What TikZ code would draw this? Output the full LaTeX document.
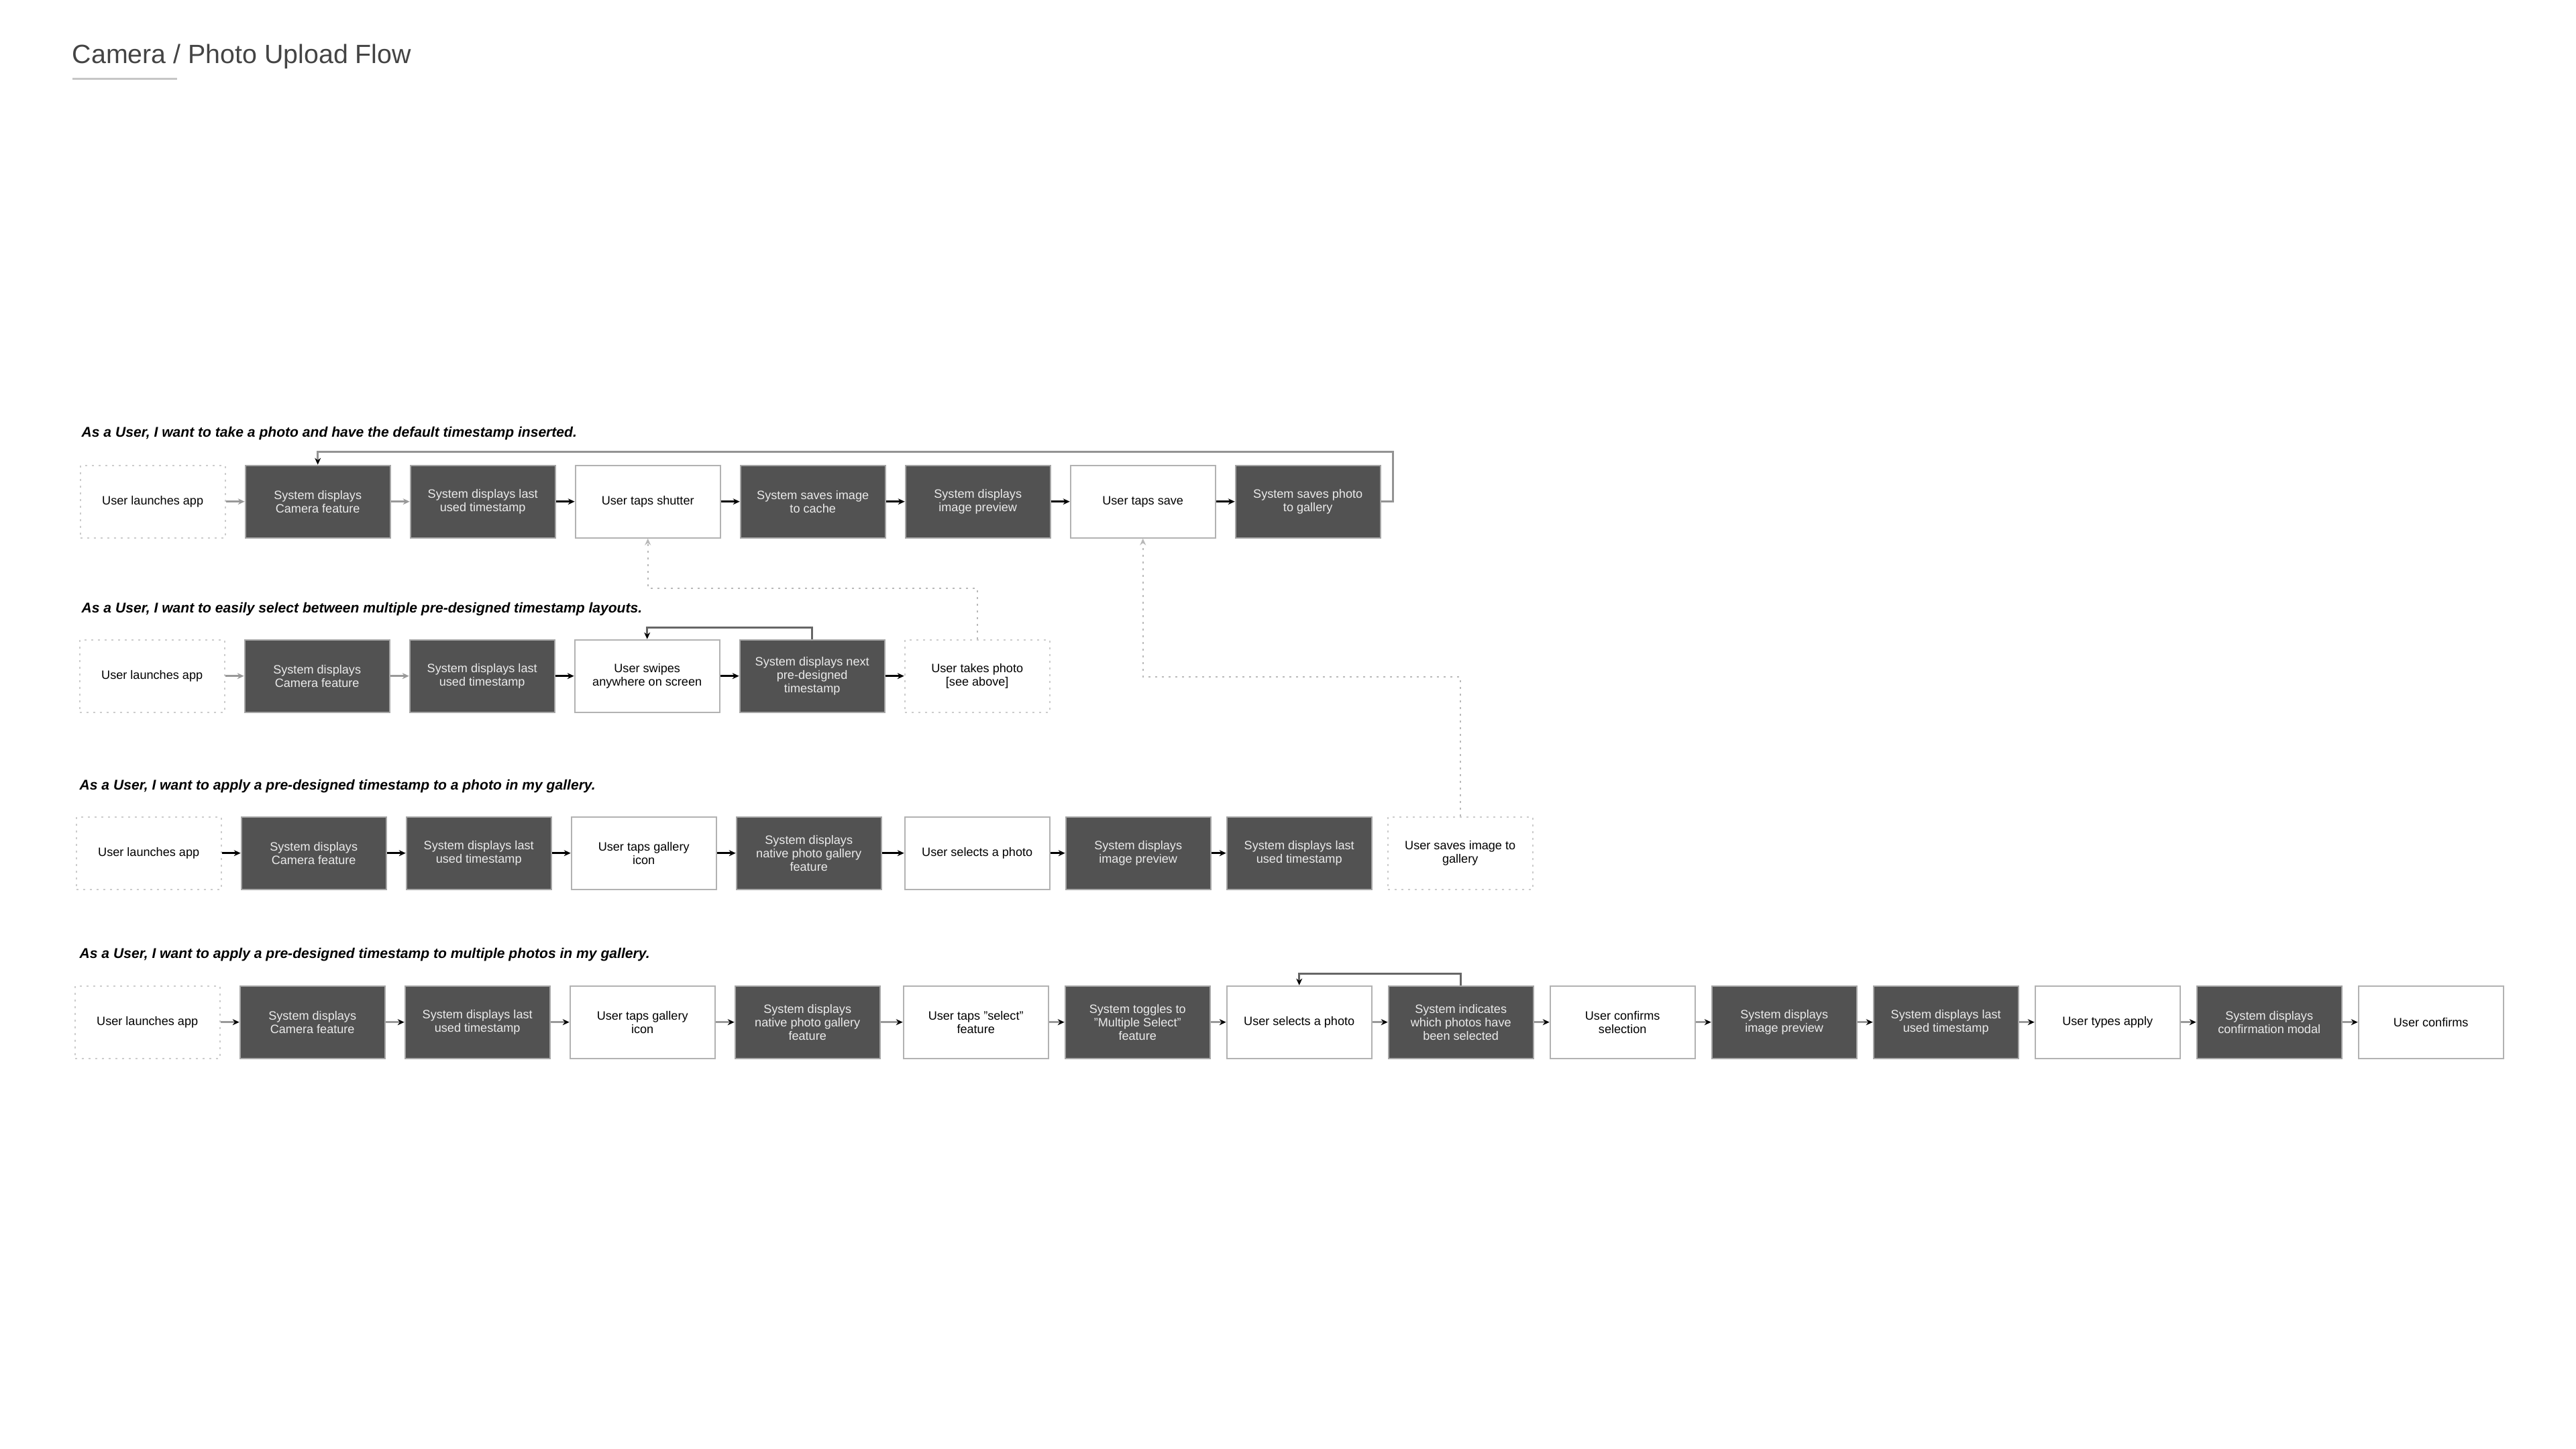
\documentclass[tikz,border=0pt]{standalone}
\usepackage{fontspec}
\setmainfont{Liberation Sans}
\usetikzlibrary{arrows.meta}
\definecolor{boxdark}{RGB}{82,82,82}
\definecolor{titleink}{RGB}{68,68,68}

\begin{document}
\begin{tikzpicture}
\tikzstyle{card} = [minimum width=2.16cm, minimum height=1.08cm, inner sep=0pt, align=center, line width=0.02cm, font=\fontsize{5.15}{5.7}\selectfont]
\tikzstyle{system} = [card, fill=boxdark, draw=gray!70, text=white!92!black]
\tikzstyle{user} = [card, fill=white, draw=gray!60, text=black]
\tikzstyle{external} = [card, draw=gray!40, dash pattern=on 0.03cm off 0.07cm, text=black]
\tikzstyle{story} = [anchor=base west, inner sep=0pt, font=\fontsize{6}{7}\selectfont\bfseries\itshape]
\tikzstyle{flow} = [line width=0.025cm, draw=black, -{Stealth[length=0.1cm, width=0.09cm]}]
\tikzstyle{flowgray} = [flow, draw=gray!80]
\tikzstyle{flowmixed} = [line width=0.025cm, draw=gray!80, -{Stealth[length=0.1cm, width=0.09cm, color=black]}]
\tikzstyle{backlink} = [line width=0.025cm, draw=gray!80!black, -{Stealth[length=0.1cm, width=0.09cm, color=black]}]
\tikzstyle{crossref} = [line width=0.02cm, draw=gray!55, dash pattern=on 0.03cm off 0.07cm, -{Stealth[length=0.1cm, width=0.09cm]}]

\useasboundingbox (0,0) rectangle (38.4,-21.6);

% title
\node (PageTitle) [anchor=base west, inner sep=0pt, text=titleink, font=\fontsize{11.2}{13}\selectfont] at (1.07,-0.95) {Camera / Photo Upload Flow};
\draw [line width=0.03cm, gray!45] (1.08,-1.18) -- (2.64,-1.18);

% story 1
\node (TakeStory) [story] at (1.21,-6.52) {As a User, I want to take a photo and have the default timestamp inserted.};
\matrix (TakeRow) [anchor=north west, inner sep=0pt, column sep=0.28cm] at (1.18,-6.92)
{
\node (TakeLaunch) [external] {User launches app}; &
\node (TakeCamera) [system] {System displays\\Camera feature}; &
\node (TakeTimestamp) [system] {System displays last\\used timestamp}; &
\node (TakeShutter) [user] {User taps shutter}; &
\node (TakeCache) [system] {System saves image\\to cache}; &
\node (TakePreview) [system] {System displays\\image preview}; &
\node (TakeSave) [user] {User taps save}; &
\node (TakeGallery) [system] {System saves photo\\to gallery}; \\
};

% story 2
\node (LayoutStory) [story] at (1.21,-9.13) {As a User, I want to easily select between multiple pre-designed timestamp layouts.};
\matrix (LayoutRow) [anchor=north west, inner sep=0pt, column sep=0.28cm] at (1.17,-9.52)
{
\node (LayoutLaunch) [external] {User launches app}; &
\node (LayoutCamera) [system] {System displays\\Camera feature}; &
\node (LayoutTimestamp) [system] {System displays last\\used timestamp}; &
\node (LayoutSwipe) [user] {User swipes\\anywhere on screen}; &
\node (LayoutNext) [system] {System displays next\\pre-designed\\timestamp}; &
\node (LayoutPhoto) [external] {User takes photo\\{[see above]}}; \\
};

% story 3
\node (SingleStory) [story] at (1.18,-11.77) {As a User, I want to apply a pre-designed timestamp to a photo in my gallery.};
\matrix (SingleRow) [anchor=north west, inner sep=0pt, column sep=0.22cm] at (1.12,-12.16)
{
\node (SingleLaunch) [external] {User launches app}; &[0.06cm]
\node (SingleCamera) [system] {System displays\\Camera feature}; &[0.06cm]
\node (SingleTimestamp) [system] {System displays last\\used timestamp}; &[0.06cm]
\node (SingleGalleryIcon) [user] {User taps gallery\\icon}; &[0.06cm]
\node (SingleNativeGallery) [system] {System displays\\native photo gallery\\feature}; &[0.11cm]
\node (SingleSelect) [user] {User selects a photo}; &
\node (SinglePreview) [system] {System displays\\image preview}; &
\node (SingleLastTimestamp) [system] {System displays last\\used timestamp}; &
\node (SingleSave) [external] {User saves image to\\gallery}; \\
};

% story 4
\node (MultiStory) [story] at (1.18,-14.28) {As a User, I want to apply a pre-designed timestamp to multiple photos in my gallery.};
\matrix (MultiRow) [anchor=north west, inner sep=0pt, column sep=0.23cm] at (1.10,-14.68)
{
\node (MultiLaunch) [external] {User launches app}; &[0.05cm]
\node (MultiCamera) [system] {System displays\\Camera feature}; &[0.05cm]
\node (MultiTimestamp) [system] {System displays last\\used timestamp}; &[0.05cm]
\node (MultiGalleryIcon) [user] {User taps gallery\\icon}; &[0.05cm]
\node (MultiNativeGallery) [system] {System displays\\native photo gallery\\feature}; &[0.10cm]
\node (MultiSelectFeature) [user] {User taps "select"\\feature}; &
\node (MultiToggle) [system] {System toggles to\\"Multiple Select"\\feature}; &
\node (MultiSelect) [user] {User selects a photo}; &
\node (MultiIndicate) [system] {System indicates\\which photos have\\been selected}; &
\node (MultiConfirmSelection) [user] {User confirms\\selection}; &
\node (MultiPreview) [system] {System displays\\image preview}; &
\node (MultiLastTimestamp) [system] {System displays last\\used timestamp}; &
\node (MultiApply) [user] {User types apply}; &
\node (MultiModal) [system] {System displays\\confirmation modal}; &
\node (MultiConfirm) [user] {User confirms}; \\
};

% flow arrows
\draw [flowgray] (TakeLaunch) -- (TakeCamera);
\draw [flowgray] (TakeCamera) -- (TakeTimestamp);
\draw [flow] (TakeTimestamp) -- (TakeShutter);
\draw [flow] (TakeShutter) -- (TakeCache);
\draw [flow] (TakeCache) -- (TakePreview);
\draw [flow] (TakePreview) -- (TakeSave);
\draw [flow] (TakeSave) -- (TakeGallery);

\draw [flowgray] (LayoutLaunch) -- (LayoutCamera);
\draw [flowgray] (LayoutCamera) -- (LayoutTimestamp);
\draw [flow] (LayoutTimestamp) -- (LayoutSwipe);
\draw [flow] (LayoutSwipe) -- (LayoutNext);
\draw [flow] (LayoutNext) -- (LayoutPhoto);

\draw [flow] (SingleLaunch) -- (SingleCamera);
\draw [flow] (SingleCamera) -- (SingleTimestamp);
\draw [flow] (SingleTimestamp) -- (SingleGalleryIcon);
\draw [flow] (SingleGalleryIcon) -- (SingleNativeGallery);
\draw [flow] (SingleNativeGallery) -- (SingleSelect);
\draw [flow] (SingleSelect) -- (SinglePreview);
\draw [flow] (SinglePreview) -- (SingleLastTimestamp);

\draw [flowmixed] (MultiLaunch) -- (MultiCamera);
\draw [flowmixed] (MultiCamera) -- (MultiTimestamp);
\draw [flowmixed] (MultiTimestamp) -- (MultiGalleryIcon);
\draw [flowmixed] (MultiGalleryIcon) -- (MultiNativeGallery);
\draw [flowmixed] (MultiNativeGallery) -- (MultiSelectFeature);
\draw [flowmixed] (MultiSelectFeature) -- (MultiToggle);
\draw [flowmixed] (MultiToggle) -- (MultiSelect);
\draw [flowmixed] (MultiSelect) -- (MultiIndicate);
\draw [flowmixed] (MultiIndicate) -- (MultiConfirmSelection);
\draw [flowmixed] (MultiConfirmSelection) -- (MultiPreview);
\draw [flowmixed] (MultiPreview) -- (MultiLastTimestamp);
\draw [flowmixed] (MultiLastTimestamp) -- (MultiApply);
\draw [flowmixed] (MultiApply) -- (MultiModal);
\draw [flowmixed] (MultiModal) -- (MultiConfirm);

% loops back
\draw [backlink, draw=gray!85] (TakeGallery.east) -- ++(0.18,0) |- ([yshift=0.19cm]TakeCamera.north) -- (TakeCamera.north);
\draw [backlink] (LayoutNext.north) -- ++(0,0.17) -| (LayoutSwipe.north);
\draw [backlink] (MultiIndicate.north) -- ++(0,0.17) -| (MultiSelect.north);

% references to story 1
\draw [crossref] (LayoutPhoto.north) -- ++(0,0.76) -| (TakeShutter.south);
\draw [crossref] (SingleSave.north) -- ++(0,2.08) -| (TakeSave.south);

\end{tikzpicture}
\end{document}
